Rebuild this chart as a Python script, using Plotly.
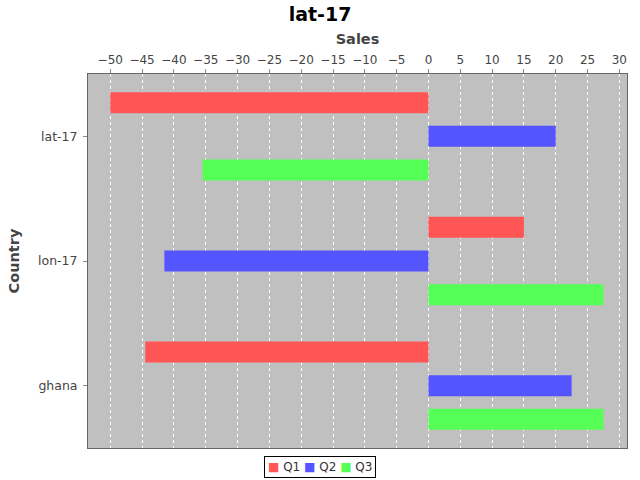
import plotly.graph_objects as go

countries = ["lat-17", "lon-17", "ghana"]
series_names = ["Q1", "Q2", "Q3"]
q1 = [-50, 15, -44.5]
q2 = [20, -41.5, 22.5]
q3 = [-35.5, 27.5, 27.5]
colors = ["#FF5555", "#5555FF", "#55FF55"]
tick_vals = list(range(-50, 31, 5))

fig = go.Figure()
for name, vals, col in zip(series_names, [q1, q2, q3], colors):
    fig.add_trace(go.Bar(
        name=name, y=countries, x=vals, orientation="h",
        marker=dict(color=col, line=dict(color=col, width=0)),
    ))

font_family = "DejaVu Sans, Verdana, sans-serif"

legend_text = " ".join(
    f'<span style="color:{c}">■</span> {n}' for n, c in zip(series_names, colors)
)

fig.update_layout(
    width=640, height=480,
    margin=dict(l=88, r=13, t=74, b=32),
    paper_bgcolor="white",
    plot_bgcolor="#C0C0C0",
    barmode="group",
    bargap=0.19,
    bargroupgap=0.375,
    title=dict(text="<b>lat-17</b>", x=0.5, xanchor="center", y=0.985, yanchor="top",
               font=dict(family=font_family, size=19, color="black")),
    font=dict(family=font_family, color="#444444"),
    showlegend=False,
    annotations=[dict(
        text=legend_text, xref="paper", yref="paper", x=0.43, y=-0.052,
        xanchor="center", yanchor="middle", showarrow=False,
        font=dict(size=12, color="#333333"),
        bordercolor="black", borderwidth=1, borderpad=3, bgcolor="white",
    )],
)
fig.update_xaxes(
    side="top", range=[-53.5, 31.2], tickvals=tick_vals,
    ticks="outside", ticklen=4, tickcolor="#888888",
    tickfont=dict(size=12, color="#444444"),
    showgrid=True, gridcolor="white", griddash="dot", gridwidth=1,
    zeroline=False, showline=True, linecolor="#666666", mirror=True,
    title=dict(text="<b>Sales</b>", font=dict(size=14.5, color="#444444"), standoff=5),
)
fig.update_yaxes(
    categoryorder="array", categoryarray=countries, autorange="reversed",
    ticks="outside", ticklen=4, tickcolor="#888888", ticklabelstandoff=3,
    tickfont=dict(size=12.5, color="#444444"),
    showgrid=False, zeroline=False, showline=True, linecolor="#666666", mirror=True,
    title=dict(text="<b>Country</b>", font=dict(size=14.5, color="#444444"), standoff=14),
)
fig.write_html("out.html")
